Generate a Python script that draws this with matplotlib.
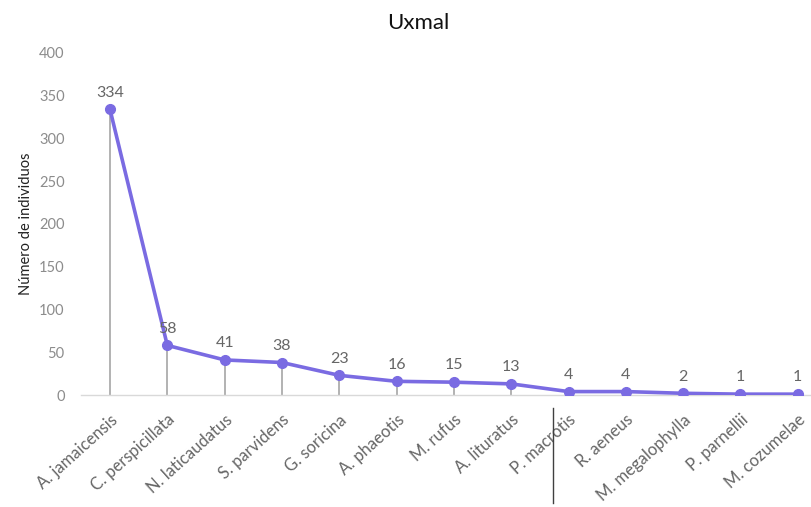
import matplotlib
matplotlib.use("Agg")
import matplotlib.pyplot as plt
import matplotlib.transforms as mtransforms

species = ["A. jamaicensis", "C. perspicillata", "N. laticaudatus", "S. parvidens",
           "G. soricina", "A. phaeotis", "M. rufus", "A. lituratus", "P. macrotis",
           "R. aeneus", "M. megalophylla", "P. parnellii", "M. cozumelae"]
counts = [334, 58, 41, 38, 23, 16, 15, 13, 4, 4, 2, 1, 1]
yticks = [0, 50, 100, 150, 200, 250, 300, 350, 400]

plt.rcParams['font.family'] = ['Lato', 'DejaVu Sans']

fig = plt.figure(figsize=(8.11, 5.07), dpi=100)
ax = fig.add_axes([0.1003, 0.2209, 0.9187, 0.6746])

x = list(range(len(species)))
line_color = "#7A6BE2"
ax.vlines(x, 0, counts, colors="#A6A6A6", linewidth=1.2, zorder=1)
ax.plot(x, counts, color=line_color, linewidth=2.6, marker="o", markersize=7,
        zorder=3)
for xi, v in zip(x, counts):
    ax.annotate(str(v), (xi, v), xytext=(0, 7), textcoords="offset points",
                ha="center", va="bottom", fontsize=11.5, color="#666666")

ax.set_xlim(-0.5, len(species) - 0.5)
ax.set_ylim(0, 400)
ax.set_yticks(yticks)
ax.set_xticks(x)
ax.set_xticklabels(species, rotation=42, ha="right", rotation_mode="anchor",
                   fontsize=12, color="#666666")
ax.tick_params(axis="y", length=0, labelsize=10.5, labelcolor="#8C8C8C", pad=12)
ax.tick_params(axis="x", length=0, pad=12)
for s in ["top", "right", "left"]:
    ax.spines[s].set_visible(False)
ax.spines["bottom"].set_color("#D9D9D9")
ax.spines["bottom"].set_linewidth(1.0)

ax.set_ylabel("Número de individuos", fontsize=10.5, color="#222222", labelpad=4)
fig.text(0.516, 0.955, "Uxmal", ha="center", va="center", fontsize=16,
         color="#111111")

# separator line below axis
trans = mtransforms.blended_transform_factory(ax.transData, fig.transFigure)
ax.plot([7.73, 7.73], [1 - 408 / 507, 1 - 503 / 507], color="#404040",
        linewidth=1.0, transform=trans, clip_on=False)

fig.savefig("out.png", dpi=100, facecolor="white")
